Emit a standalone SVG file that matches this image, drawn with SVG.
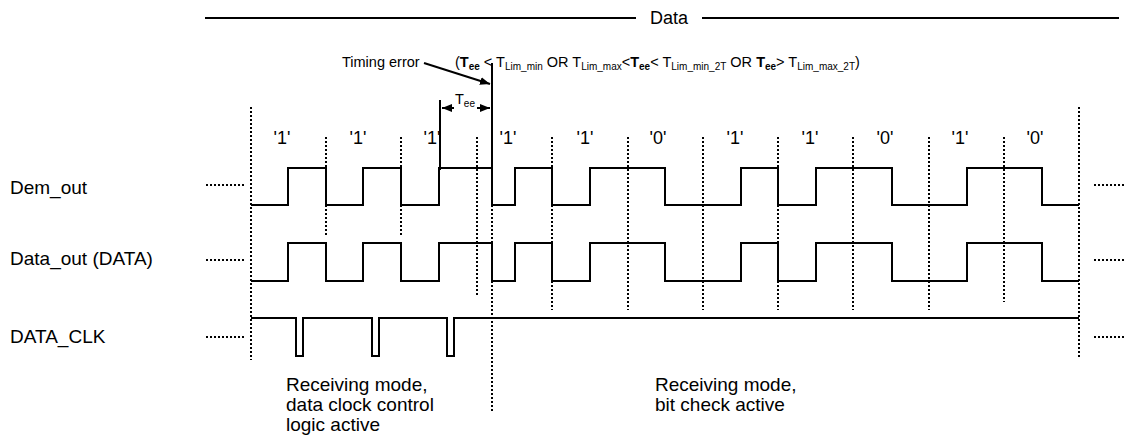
<svg xmlns="http://www.w3.org/2000/svg" width="1128" height="445" viewBox="0 0 1128 445">
<style>
text{font-family:"Liberation Sans",Arial,sans-serif;fill:#000}
.lbl{font-size:18px}
.big{font-size:19px}
.sm{font-size:14.5px}
.sub{font-size:10px}
.b{font-weight:bold}
.sig{fill:none;stroke:#000;stroke-width:2}
.dot{fill:none;stroke:#000;stroke-width:2;stroke-dasharray:2 2}
.ln{fill:none;stroke:#000;stroke-width:2}
</style>
<defs>
<marker id="ah" viewBox="0 0 10 10" refX="10" refY="5" markerWidth="5" markerHeight="5" orient="auto-start-reverse" markerUnits="strokeWidth"><path d="M0,1 L10,5 L0,9 z" fill="#000"/></marker>
</defs>
<g id="header">
<line class="ln" x1="205" y1="18" x2="636" y2="18"/>
<text class="lbl" x="669" y="24" text-anchor="middle">Data</text>
<line class="ln" x1="702" y1="18" x2="1119" y2="18"/>
</g>
<g id="labels" class="big">
<text x="10" y="194">Dem_out</text>
<text x="10" y="265">Data_out (DATA)</text>
<text x="10" y="343">DATA_CLK</text>
</g>
<g id="bits" class="lbl" text-anchor="middle">
<text x="282" y="144">'1'</text>
<text x="358" y="144">'1'</text>
<text x="432" y="144">'1'</text>
<text x="508" y="144">'1'</text>
<text x="585" y="144">'1'</text>
<text x="658" y="144">'0'</text>
<text x="735" y="144">'1'</text>
<text x="810" y="144">'1'</text>
<text x="885" y="144">'0'</text>
<text x="960" y="144">'1'</text>
<text x="1035" y="144">'0'</text>
</g>
<g id="gridlines">
<line class="dot" x1="251" y1="107" x2="251" y2="360"/>
<line class="dot" x1="326" y1="137" x2="326" y2="235"/>
<line class="dot" x1="401" y1="137" x2="401" y2="235"/>
<line class="dot" x1="477" y1="137" x2="477" y2="296"/>
<line class="dot" x1="492" y1="205" x2="492" y2="412"/>
<line class="dot" x1="552" y1="137" x2="552" y2="310"/>
<line class="dot" x1="628" y1="137" x2="628" y2="310"/>
<line class="dot" x1="703" y1="137" x2="703" y2="310"/>
<line class="dot" x1="778" y1="137" x2="778" y2="310"/>
<line class="dot" x1="853" y1="137" x2="853" y2="310"/>
<line class="dot" x1="929" y1="137" x2="929" y2="310"/>
<line class="dot" x1="1004" y1="137" x2="1004" y2="302"/>
<line class="dot" x1="1079" y1="107" x2="1079" y2="358"/>
<line class="dot" x1="206" y1="185" x2="244" y2="185"/>
<line class="dot" x1="206" y1="260" x2="244" y2="260"/>
<line class="dot" x1="206" y1="337" x2="244" y2="337"/>
<line class="dot" x1="1094" y1="185" x2="1126" y2="185"/>
<line class="dot" x1="1094" y1="260" x2="1126" y2="260"/>
<line class="dot" x1="1094" y1="337" x2="1126" y2="337"/>
</g>
<g id="dem_out">
<path class="sig" d="M251,205 H288 V168 H326 V205 H363 V168 H401 V205 H439 V168 H492 V205 H515 V168 H552 V205 H590 V168 H665 V205 H741 V168 H778 V205 H816 V168 H892 V205 H967 V168 H1042 V205 H1079"/>
</g>
<g id="data_out">
<path class="sig" d="M251,281 H288 V243 H326 V281 H363 V243 H401 V281 H439 V243 H492 V281 H515 V243 H552 V281 H590 V243 H665 V281 H741 V243 H778 V281 H816 V243 H892 V281 H967 V243 H1042 V281 H1079"/>
</g>
<g id="data_clk">
<path class="sig" d="M251,318 H296 V356 H303 V318 H372 V356 H379 V318 H447 V356 H454 V318 H1079"/>
</g>
<g id="timing">
<line class="ln" x1="440" y1="100" x2="440" y2="170"/>
<line class="ln" x1="492" y1="63" x2="492" y2="170"/>
<text class="sm" x="342" y="67">Timing error</text>
<text class="sm" x="455" y="67">(<tspan class="b">T</tspan><tspan class="sub b" dy="3">ee</tspan><tspan dy="-3"> &lt; T</tspan><tspan class="sub" dy="3">Lim_min</tspan><tspan dy="-3"> OR T</tspan><tspan class="sub" dy="3">Lim_max</tspan><tspan dy="-3">&lt;</tspan><tspan class="b">T</tspan><tspan class="sub b" dy="3">ee</tspan><tspan dy="-3">&lt; T</tspan><tspan class="sub" dy="3">Lim_min_2T</tspan><tspan dy="-3"> OR </tspan><tspan class="b">T</tspan><tspan class="sub b" dy="3">ee</tspan><tspan dy="-3">&gt; T</tspan><tspan class="sub" dy="3">Lim_max_2T</tspan><tspan dy="-3">)</tspan></text>
<text class="sm" x="455" y="104">T<tspan class="sub" dy="3">ee</tspan></text>
</g>
<g id="connectors">
<line class="ln" x1="424" y1="63" x2="490" y2="84" stroke-width="1.8" marker-end="url(#ah)"/>
<line class="ln" x1="454" y1="108" x2="442" y2="108" stroke-width="1.8" marker-end="url(#ah)"/>
<line class="ln" x1="477" y1="108" x2="490" y2="108" stroke-width="1.8" marker-end="url(#ah)"/>
</g>
<g id="modes" class="big">
<text x="286" y="391">Receiving mode,</text>
<text x="286" y="411">data clock control</text>
<text x="286" y="431">logic active</text>
<text x="655" y="391">Receiving mode,</text>
<text x="655" y="411">bit check active</text>
</g>
</svg>
